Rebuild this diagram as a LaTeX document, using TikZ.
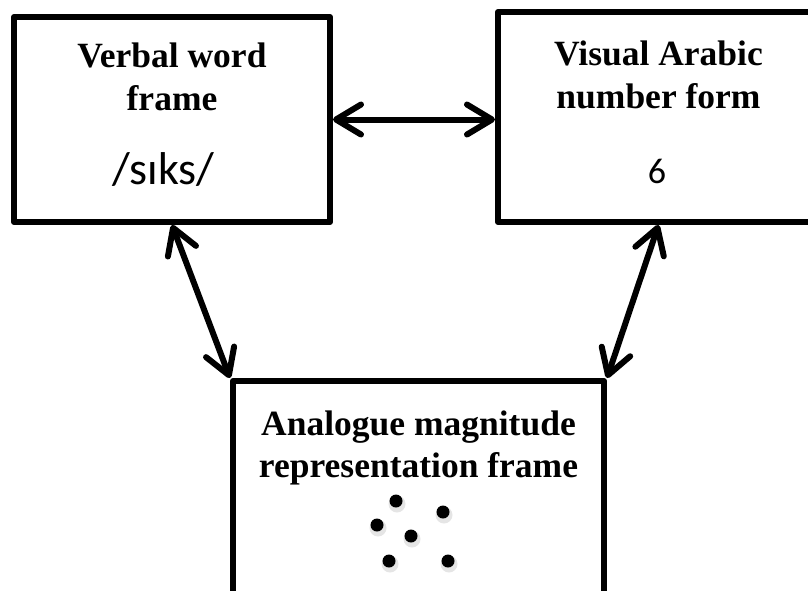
\documentclass[tikz,border=0pt]{standalone}
\usepackage{fontspec}
\setmainfont{Liberation Serif}
\newfontfamily\calib{Carlito}
\usetikzlibrary{arrows.meta}

\begin{document}
\begin{tikzpicture}[x=1pt,y=-1pt,
    frame/.style={draw,line width=6pt,line join=round,inner sep=0pt},
    title/.style={align=center,inner sep=0pt,anchor=base,
      font=\fontsize{35.5}{43}\selectfont\bfseries},
    link/.style={line width=6pt,line cap=round,
      {Straight Barb[length=25pt,width=30pt,line cap=round,line join=round]}-{Straight Barb[length=25pt,width=30pt,line cap=round,line join=round]}}]
\useasboundingbox (0,0) rectangle (808,590);
\clip (0,0) rectangle (808,590);
% the three frames
\node[frame,minimum width=316pt,minimum height=205pt] (verbal) at (172,119.5) {};
\node[frame,minimum width=321pt,minimum height=210pt] (arabic) at (658.5,117) {};
\node[frame,minimum width=371pt,minimum height=240pt] (analogue) at (418.5,501) {};
% titles
\node[title] (verbalT) at (172,110) {Verbal word\\frame};
\node[title] (arabicT) at (658.5,108) {Visual Arabic\\number form};
\node[title,font=\fontsize{35.5}{42}\selectfont\bfseries] (analogueT) at (418.5,477)
  {Analogue magnitude\\representation frame};
% contents
\node[anchor=base,inner sep=0pt,font=\calib\fontsize{46}{50}\selectfont] (six) at (163.5,184) {/sɪks/};
\node[anchor=base,inner sep=0pt,font=\calib\fontsize{36}{40}\selectfont] (digit) at (657,183) {6};
\foreach \x/\y in {396/501,443/512,377/525,411/536,389/561,448/561}
  \fill[black!10] (\x+1,\y+3) circle (8.5);
\foreach \x/\y in {396/501,443/512,377/525,411/536,389/561,448/561}
  \fill (\x,\y) circle (6.5);
% links
\draw[link] (verbal.east) -- (verbal.east -| arabic.west);
\draw[link] (verbal.south) -- (analogue.north west);
\draw[link] (arabic.south) -- (analogue.north east);
\end{tikzpicture}
\end{document}
